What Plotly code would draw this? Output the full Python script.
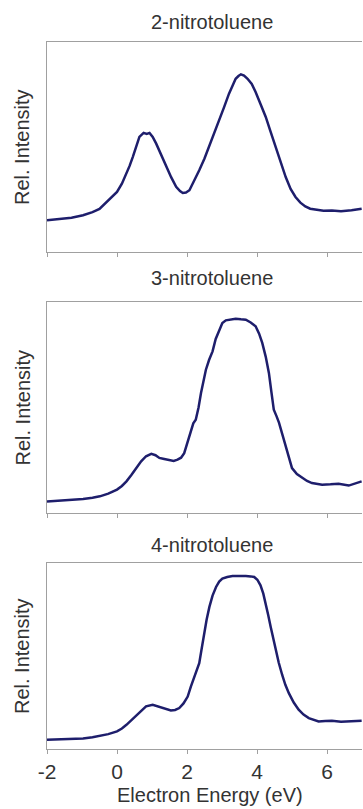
import plotly.graph_objects as go

W, H = 363, 809

titles = ["2-nitrotoluene", "3-nitrotoluene", "4-nitrotoluene"]

x1 = [-2.0, -1.6, -1.3, -0.97, -0.7, -0.5, -0.3, -0.15, 0.0, 0.14, 0.27, 0.36, 0.45, 0.55, 0.64, 0.76, 0.85, 0.93, 1.02, 1.12, 1.26, 1.40, 1.55, 1.69, 1.80, 1.88, 1.97, 2.07, 2.20, 2.35, 2.50, 2.63, 2.78, 2.92, 3.06, 3.20, 3.30, 3.39, 3.47, 3.54, 3.63, 3.73, 3.85, 3.96, 4.10, 4.25, 4.39, 4.53, 4.68, 4.82, 4.96, 5.10, 5.24, 5.38, 5.52, 5.67, 5.90, 6.14, 6.40, 6.70, 6.99]
y1 = [0.151, 0.156, 0.163, 0.175, 0.190, 0.205, 0.238, 0.258, 0.286, 0.325, 0.373, 0.410, 0.452, 0.500, 0.548, 0.567, 0.562, 0.567, 0.548, 0.516, 0.462, 0.405, 0.355, 0.310, 0.290, 0.281, 0.283, 0.294, 0.335, 0.389, 0.445, 0.500, 0.565, 0.627, 0.690, 0.754, 0.795, 0.825, 0.838, 0.846, 0.840, 0.825, 0.800, 0.762, 0.705, 0.643, 0.572, 0.500, 0.425, 0.357, 0.300, 0.262, 0.235, 0.217, 0.206, 0.202, 0.196, 0.198, 0.194, 0.199, 0.206]

x2 = [-2.0, -1.6, -1.3, -0.97, -0.7, -0.49, -0.25, 0.0, 0.14, 0.27, 0.41, 0.55, 0.69, 0.83, 0.98, 1.10, 1.21, 1.35, 1.50, 1.62, 1.73, 1.83, 1.92, 2.02, 2.11, 2.18, 2.25, 2.33, 2.40, 2.47, 2.54, 2.63, 2.73, 2.82, 2.92, 3.01, 3.11, 3.25, 3.39, 3.54, 3.68, 3.82, 3.96, 4.06, 4.15, 4.25, 4.34, 4.41, 4.48, 4.56, 4.63, 4.72, 4.82, 4.91, 5.00, 5.14, 5.29, 5.43, 5.57, 5.86, 6.10, 6.33, 6.62, 6.80, 6.99]
y2 = [0.055, 0.058, 0.062, 0.066, 0.072, 0.079, 0.092, 0.111, 0.128, 0.150, 0.180, 0.213, 0.245, 0.269, 0.280, 0.274, 0.261, 0.256, 0.250, 0.247, 0.253, 0.262, 0.284, 0.340, 0.395, 0.425, 0.442, 0.500, 0.569, 0.630, 0.679, 0.725, 0.766, 0.825, 0.869, 0.900, 0.913, 0.916, 0.921, 0.918, 0.916, 0.903, 0.885, 0.850, 0.806, 0.740, 0.664, 0.575, 0.490, 0.458, 0.427, 0.375, 0.316, 0.262, 0.213, 0.185, 0.166, 0.152, 0.142, 0.134, 0.136, 0.139, 0.130, 0.138, 0.150]

x3 = [-2.0, -1.6, -1.3, -0.97, -0.7, -0.49, -0.25, 0.0, 0.14, 0.27, 0.41, 0.55, 0.69, 0.83, 1.02, 1.16, 1.31, 1.43, 1.54, 1.66, 1.78, 1.90, 2.02, 2.11, 2.21, 2.28, 2.35, 2.42, 2.49, 2.56, 2.64, 2.73, 2.83, 2.92, 3.01, 3.15, 3.30, 3.49, 3.68, 3.82, 3.92, 4.01, 4.10, 4.18, 4.25, 4.32, 4.39, 4.46, 4.53, 4.62, 4.72, 4.81, 4.91, 5.05, 5.19, 5.33, 5.48, 5.62, 5.76, 5.95, 6.14, 6.40, 6.62, 6.80, 6.99]
y3 = [0.050, 0.052, 0.054, 0.057, 0.063, 0.071, 0.080, 0.095, 0.110, 0.130, 0.155, 0.184, 0.208, 0.229, 0.238, 0.230, 0.220, 0.212, 0.207, 0.210, 0.220, 0.245, 0.282, 0.335, 0.389, 0.420, 0.461, 0.540, 0.621, 0.695, 0.764, 0.825, 0.871, 0.900, 0.916, 0.925, 0.930, 0.931, 0.930, 0.928, 0.925, 0.910, 0.880, 0.835, 0.782, 0.720, 0.657, 0.595, 0.532, 0.465, 0.398, 0.345, 0.300, 0.250, 0.211, 0.185, 0.166, 0.155, 0.148, 0.151, 0.152, 0.147, 0.148, 0.151, 0.152]

xs = [x1, x2, x3]
ys = [y1, y2, y3]

x_ticks = [-2, 0, 2, 4, 6]
x_tick_labels = ["-2", "0", "2", "4", "6"]
x_range = [-2, 7]

# panel boxes in pixels (top, bottom)
boxes = [(42, 252), (302, 513), (563, 749)]
title_y = [22, 278, 545]
left_px, right_px = 47, 362

line_color = "#1e1e6c"
axis_color = "#a0a0a0"
text_color = "#333333"
font_family = "Liberation Sans, Arial, sans-serif"

fig = go.Figure()
layout = dict(
    width=W, height=H, autosize=False,
    margin=dict(l=0, r=0, t=0, b=0, pad=0, autoexpand=False),
    paper_bgcolor="white", plot_bgcolor="white",
    showlegend=False,
    font=dict(family=font_family, size=20, color=text_color),
)
annotations = []
for i in range(3):
    n = "" if i == 0 else str(i + 1)
    fig.add_trace(go.Scatter(x=xs[i], y=ys[i], mode="lines",
                             line=dict(color=line_color, width=2.5),
                             xaxis="x" + n, yaxis="y" + n,
                             hoverinfo="skip"))
    top, bot = boxes[i]
    layout["xaxis" + n] = dict(
        domain=[left_px / W, right_px / W], range=x_range,
        anchor="y" + n, tickvals=x_ticks, ticktext=x_tick_labels,
        showticklabels=(i == 2),
        ticks="outside", ticklen=4, tickcolor=axis_color, tickwidth=1,
        showline=True, linecolor=axis_color, linewidth=1, mirror=True,
        showgrid=False, zeroline=False, automargin=False,
        tickfont=dict(size=21, color=text_color),
    )
    layout["yaxis" + n] = dict(
        domain=[1 - bot / H, 1 - top / H], range=[0, 1],
        anchor="x" + n, showticklabels=False, ticks="",
        showline=True, linecolor=axis_color, linewidth=1,
        showgrid=False, zeroline=False, automargin=False,
    )
    annotations.append(dict(text=titles[i], xref="paper", yref="paper",
                            x=212 / W, y=1 - title_y[i] / H,
                            showarrow=False, font=dict(size=20, color=text_color),
                            xanchor="center", yanchor="middle"))
    annotations.append(dict(text="Rel. Intensity", xref="paper", yref="paper",
                            x=22 / W, y=1 - (top + bot) / 2 / H, textangle=-90,
                            showarrow=False, font=dict(size=20, color=text_color),
                            xanchor="center", yanchor="middle"))
annotations.append(dict(text="Electron Energy (eV)", xref="paper", yref="paper",
                        x=210 / W, y=1 - 795 / H, showarrow=False,
                        font=dict(size=20, color=text_color),
                        xanchor="center", yanchor="middle"))
layout["annotations"] = annotations
fig.update_layout(**layout)
fig.write_html(
    "out.html",
    config={"responsive": False, "displayModeBar": False},
    post_script="document.body.style.margin='0';document.body.style.padding='0';document.body.style.overflow='hidden';document.documentElement.style.overflow='hidden';",
)
